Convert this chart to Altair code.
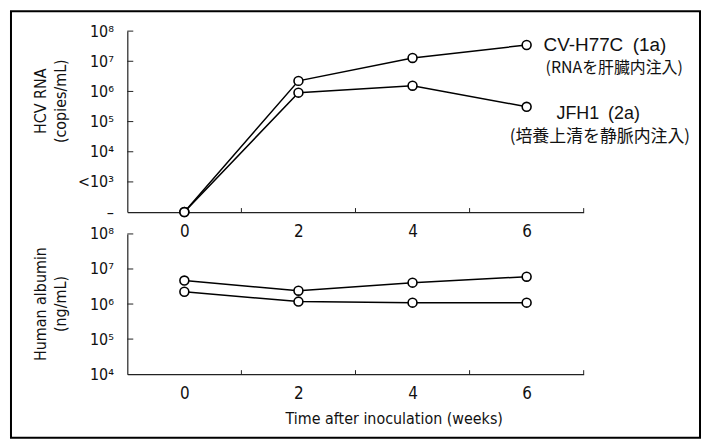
import altair as alt
import pandas as pd

# ---- data (log10 values) ----
weeks = [0, 2, 4, 6]
strains = ["CV-H77C\u2002(1a)", "JFH1\u2002(2a)"]
routes = ["(RNAを肝臓内注入)", "(培養上清を静脈内注入)"]
# HCV RNA, log10 copies/mL; level 2 = undetectable ("–"), level 3 = "<10³"
hcv_rna_cv = [2.0, 6.35, 7.11, 7.54]
hcv_rna_jfh = [2.0, 5.96, 6.19, 5.49]
# Human albumin, log10 ng/mL
albumin_cv = [6.67, 6.38, 6.61, 6.78]
albumin_jfh = [6.35, 6.07, 6.04, 6.04]

hcv_levels = [2, 3, 4, 5, 6, 7, 8]
hcv_labels = ["–", "<10³", "10⁴", "10⁵", "10⁶", "10⁷", "10⁸"]
alb_levels = [4, 5, 6, 7, 8]
alb_labels = ["10⁴", "10⁵", "10⁶", "10⁷", "10⁸"]
week_labels = [0, 2, 4, 6]
minor_weeks = [1, 3, 5, 7]

LATIN = "DejaVu Sans Condensed, Liberation Sans Narrow, Liberation Sans, sans-serif"
SANS = "Liberation Sans, DejaVu Sans, sans-serif"
CJK = "Noto Sans CJK JP"

W = 459
H_TOP = 182
H_BOT = 141
X_DOM = [-1, 7]


def label_expr(levels, labels):
    expr = "''"
    for lv, lb in reversed(list(zip(levels, labels))):
        expr = f"round(datum.value) == {lv} ? '{lb}' : ({expr})"
    return expr


def long_df(values_a, values_b):
    rows = []
    for s, vals in zip(strains, [values_a, values_b]):
        for w, v in zip(weeks, vals):
            rows.append({"week": w, "value": v, "strain": s})
    return pd.DataFrame(rows)


top_df = long_df(hcv_rna_cv, hcv_rna_jfh)
bot_df = long_df(albumin_cv, albumin_jfh)

x_scale = alt.Scale(domain=X_DOM, nice=False, zero=False)


def make_x_axis(with_title):
    args = dict(values=week_labels, ticks=False, grid=False, domainColor="#222",
                domainWidth=1.2, labelFont=LATIN, labelFontSize=17, labelColor="#111",
                labelPadding=12, format="d", labelOverlap=False)
    if with_title:
        return alt.Axis(title="Time after inoculation (weeks)", titleFont=LATIN,
                        titleFontSize=16, titleFontWeight="normal", titleColor="#111",
                        titleX=268, titleY=45, titleBaseline="middle", **args)
    return alt.Axis(title=None, **args)


def make_y_axis(levels, labels, ytitle, title_y):
    return alt.Axis(values=levels, labelExpr=label_expr(levels, labels), ticks=False,
                    grid=False, domainColor="#222", domainWidth=1.2, labelFont=LATIN,
                    labelFontSize=16, labelColor="#111", labelPadding=14,
                    labelOverlap=False, labelBound=False, labelFlush=False,
                    title=ytitle, titleFont=LATIN, titleFontSize=16, titleFontWeight="normal",
                    titleColor="#111", titleX=-87, titleY=title_y, titleBaseline="middle",
                    titleAngle=270, titleLineHeight=20)


def panel(df, levels, labels, y_dom, height, ytitle, title_y, with_xtitle):
    y_scale = alt.Scale(domain=y_dom, nice=False, zero=False)
    ya = make_y_axis(levels, labels, ytitle, title_y)
    xa = make_x_axis(with_xtitle)

    def X(f):
        return alt.X(f, type="quantitative", scale=x_scale, axis=xa, title=xa.title)

    def Y(f):
        return alt.Y(f, type="quantitative", scale=y_scale, axis=ya)

    base = alt.Chart(df)
    lines = base.mark_line(color="black", strokeWidth=1.5).encode(
        x=X("week"), y=Y("value"), detail="strain:N")
    points = base.mark_point(shape="circle", filled=True, fill="white", stroke="black",
                             strokeWidth=1.6, size=80, opacity=1).encode(
        x=X("week"), y=Y("value"))
    # inward tick marks
    px_w = (X_DOM[1] - X_DOM[0]) / W
    px_h = (y_dom[1] - y_dom[0]) / height
    ytk = pd.DataFrame({"week": X_DOM[0], "value": [lv for lv in levels if lv != y_dom[0]]})
    ytk["x2"] = X_DOM[0] + 6 * px_w
    yticks = alt.Chart(ytk).mark_rule(color="#222", strokeWidth=1).encode(
        x=X("week"), x2="x2:Q", y=Y("value"))
    xtk = pd.DataFrame({"week": minor_weeks, "value": y_dom[0]})
    xtk["y2"] = y_dom[0] + 4 * px_h
    xticks = alt.Chart(xtk).mark_rule(color="#222", strokeWidth=1).encode(
        x=X("week"), y=Y("value"), y2="y2:Q")
    return [lines, points, yticks, xticks], X, Y


top_layers, Xt, Yt = panel(top_df, hcv_levels, hcv_labels, [2, 8], H_TOP,
                           ["HCV RNA", "(copies/mL)"], 70, False)

# annotations anchored at the last point of each series
last = top_df[top_df["week"] == weeks[-1]].reset_index(drop=True)
ann_specs = [
    (last.iloc[[0]].assign(t=strains[0]), dict(dx=17, dy=0, font=SANS, fontSize=19)),
    (last.iloc[[0]].assign(t=routes[0]), dict(dx=19, dy=23, font=CJK, fontSize=16)),
    (last.iloc[[1]].assign(t=strains[1]), dict(dx=30, dy=7, font=SANS, fontSize=18)),
    (last.iloc[[1]].assign(t=routes[1]), dict(dx=-17, dy=30, font=CJK, fontSize=17)),
]
for d, kw in ann_specs:
    top_layers.append(
        alt.Chart(d).mark_text(align="left", baseline="middle", color="#111", **kw).encode(
            x=Xt("week"), y=Yt("value"), text="t:N"))

# outer frame of the figure
frame = alt.Chart(pd.DataFrame({"a": [0]})).mark_rect(
    fillOpacity=0, stroke="black", strokeWidth=2).encode(
    x=alt.value(-117), x2=alt.value(576), y=alt.value(-20), y2=alt.value(409))
top_layers.append(frame)

top = alt.layer(*top_layers).properties(width=W, height=H_TOP)

bot_layers, _, _ = panel(bot_df, alb_levels, alb_labels, [4, 8], H_BOT,
                         ["Human albumin", "(ng/mL)"], 70, True)
bottom = alt.layer(*bot_layers).properties(width=W, height=H_BOT)

chart = alt.vconcat(top, bottom, spacing=22, bounds="flush").properties(
    padding={"left": 2, "top": 1, "right": 0, "bottom": 0}, background="white"
).configure_view(strokeWidth=0).configure_axis(labelOverlap=False)

chart.save("out.html", embed_options={"renderer": "svg", "actions": False})
